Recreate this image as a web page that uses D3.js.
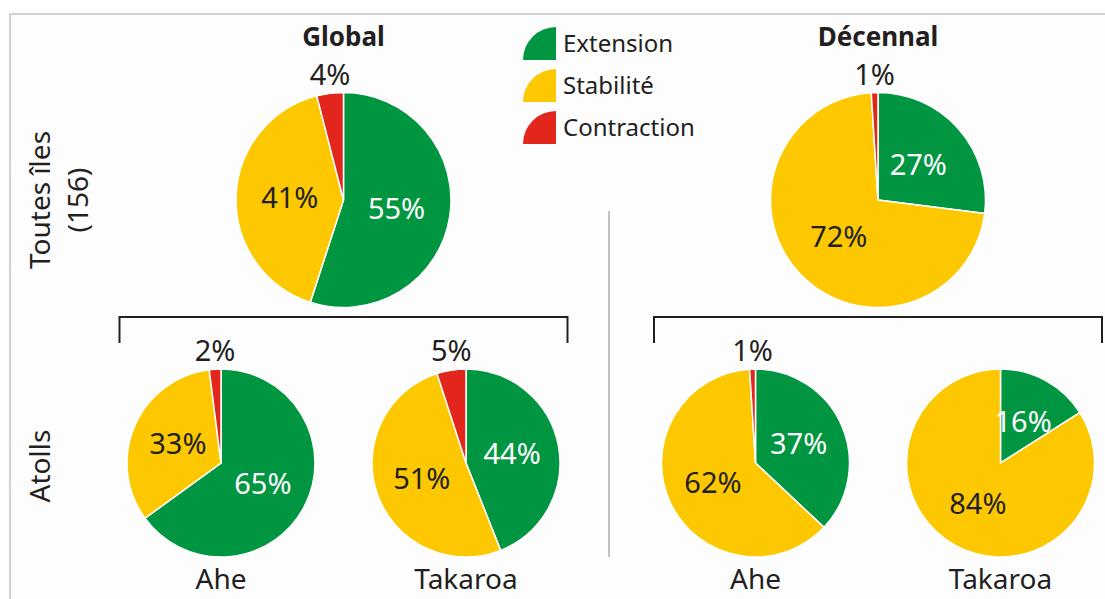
<!DOCTYPE html>
<html>
<head>
<meta charset="utf-8">
<script src="https://cdn.jsdelivr.net/npm/d3@7"></script>
<style>
  body { margin: 0; background: #fff; }
  svg { display: block; font-family: "Noto Sans", sans-serif; }
</style>
</head>
<body>
<svg id="chart" width="1105" height="599"></svg>
<script>
// categories and values (percent of islands)
const categories = ["Extension", "Stabilité", "Contraction"];
const periods = ["Global", "Décennal"];
const atolls = ["Ahe", "Takaroa"];
const rowLabels = [["Toutes îles", "(156)"], ["Atolls"]];

const globalAll = [55, 41, 4];
const decennalAll = [27, 72, 1];
const globalAhe = [65, 33, 2];
const globalTakaroa = [44, 51, 5];
const decennalAhe = [37, 62, 1];
const decennalTakaroa = [16, 84, 0];

const colors = ["#009641", "#fdc800", "#e2261c"];
const textDark = "#231f20";

const svg = d3.select("#chart");

// frame
svg.append("rect")
  .attr("x", 10).attr("y", 14)
  .attr("width", 1200).attr("height", 700)
  .attr("fill", "#fdfdfd")
  .attr("stroke", "#c4c4c4").attr("stroke-width", 1.5);

// scales for pie placement
const xPanel = d3.scalePoint().domain(periods).range([343.5, 878]);
const xAtoll = d3.scalePoint().domain(atolls).range([-122.5, 122.5]);
const color = d3.scaleOrdinal().domain(categories).range(colors);

const topR = 107.5, topY = 200;
const botR = 94, botY = 463;

const pie = d3.pie().sort(null).value(d => d.value);

function drawPie(values, cx, cy, r) {
  const g = svg.append("g").attr("transform", `translate(${cx},${cy})`);
  const data = pie(categories.map((c, i) => ({cat: c, value: values[i]})));
  const arc = d3.arc().innerRadius(0).outerRadius(r);
  const labelArc = d3.arc().innerRadius(r * 0.5).outerRadius(r * 0.5);

  g.selectAll("path")
    .data(data.filter(d => d.data.value > 0))
    .join("path")
      .attr("d", arc)
      .attr("fill", d => color(d.data.cat))
      .attr("stroke", "#fff")
      .attr("stroke-width", 1.5);

  // labels: big slices inside, small slices above the pie
  g.selectAll("text")
    .data(data.filter(d => d.data.value > 0))
    .join("text")
      .attr("text-anchor", "middle")
      .attr("font-size", 29)
      .attr("fill", d => d.data.value < 10 ? textDark : (d.data.cat === "Extension" ? "#fff" : textDark))
      .attr("x", d => {
        if (d.data.value < 10) return Math.sin((d.startAngle + d.endAngle) / 2) * r;
        return labelArc.centroid(d)[0];
      })
      .attr("y", d => d.data.value < 10 ? -r - 8 : labelArc.centroid(d)[1])
      .attr("dy", d => d.data.value < 10 ? 0 : "0.35em")
      .text(d => d.data.value + "%");
}

// top row: all islands
drawPie(globalAll, xPanel("Global"), topY, topR);
drawPie(decennalAll, xPanel("Décennal"), topY, topR);

// bottom row: per atoll
const atollData = {
  "Global": [globalAhe, globalTakaroa],
  "Décennal": [decennalAhe, decennalTakaroa]
};
periods.forEach(p => {
  atolls.forEach((a, i) => {
    const cx = xPanel(p) + xAtoll(a);
    drawPie(atollData[p][i], cx, botY, botR);
    svg.append("text")
      .attr("x", cx).attr("y", 589)
      .attr("text-anchor", "middle")
      .attr("font-size", 28)
      .attr("fill", textDark)
      .text(a);
  });

  // panel title
  svg.append("text")
    .attr("x", xPanel(p)).attr("y", 46)
    .attr("text-anchor", "middle")
    .attr("font-size", 26)
    .attr("font-weight", "bold")
    .attr("fill", textDark)
    .text(p);

  // bracket over the atoll pies
  const bx0 = xPanel(p) - 224, bx1 = xPanel(p) + 224;
  svg.append("path")
    .attr("d", `M${bx0},343V317H${bx1}V343`)
    .attr("fill", "none")
    .attr("stroke", "#231f20")
    .attr("stroke-width", 2);
});

// separator between panels
svg.append("line")
  .attr("x1", 609).attr("x2", 609)
  .attr("y1", 211).attr("y2", 557)
  .attr("stroke", "#888").attr("stroke-width", 1);

// row labels (rotated)
const rowY = [topY, 466];
rowLabels.forEach((lines, i) => {
  const t = svg.append("text")
    .attr("transform", `translate(50,${rowY[i]}) rotate(-90)`)
    .attr("text-anchor", "middle")
    .attr("font-size", 28)
    .attr("fill", textDark);
  lines.forEach((l, j) => {
    t.append("tspan").attr("x", 0).attr("y", j * 38).text(l);
  });
});

// legend with quarter-circle swatches
const legend = svg.append("g").attr("transform", "translate(523,27)");
const quarter = d3.arc().innerRadius(0).outerRadius(33)
  .startAngle(-Math.PI / 2).endAngle(0);
categories.forEach((c, i) => {
  const row = legend.append("g").attr("transform", `translate(0,${i * 42})`);
  row.append("path")
    .attr("d", quarter)
    .attr("transform", "translate(33,33)")
    .attr("fill", color(c));
  row.append("text")
    .attr("x", 40).attr("y", 25)
    .attr("font-size", 24)
    .attr("fill", textDark)
    .text(c);
});
</script>
</body>
</html>
